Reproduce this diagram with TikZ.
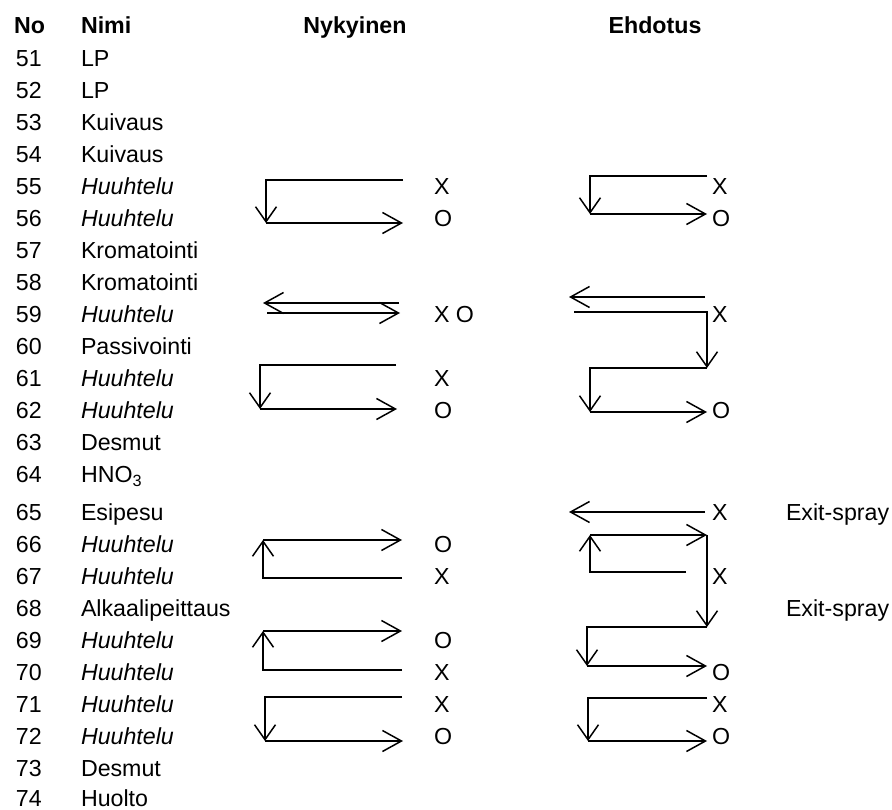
\documentclass[tikz,border=0pt]{standalone}
\usepackage{fontspec}
\setmainfont{Liberation Sans}
\usetikzlibrary{arrows.meta}
\begin{document}
\begin{tikzpicture}[x=1pt,y=-1pt,
  every node/.style={inner sep=0pt, outer sep=0pt, font=\fontsize{23.2}{28}\selectfont},
  cell/.style={anchor=base west},
  hcell/.style={anchor=base west, font=\fontsize{23.2}{28}\selectfont\bfseries},
  hmid/.style={anchor=base, font=\fontsize{23.2}{28}\selectfont\bfseries},
  rinse/.style={anchor=base west, font=\fontsize{23.2}{28}\selectfont\itshape},
  flow/.style={line width=1.5pt, line join=miter},
  harr/.style={flow, -{Straight Barb[length=19pt,width=21pt]}},
  varr/.style={flow, -{Straight Barb[length=15pt,width=21pt]}},
]
\useasboundingbox (0,0) rectangle (892,810);

% column headers
\node[hcell] (hNo)   at (14,33.3)  {No};
\node[hcell] (hNimi) at (81,33.3)  {Nimi};
\node[hmid]  (hNyk)  at (355,33.3) {Nykyinen};
\node[hmid]  (hEhd)  at (655,33.3) {Ehdotus};

% station numbers and names (baseline = row centre + 8.3)
\node[cell] (n51) at (16,66.3)  {51}; \node[cell]  (t51) at (81,66.3)  {LP};
\node[cell] (n52) at (16,98.3)  {52}; \node[cell]  (t52) at (81,98.3)  {LP};
\node[cell] (n53) at (16,130.3) {53}; \node[cell]  (t53) at (81,130.3) {Kuivaus};
\node[cell] (n54) at (16,162.3) {54}; \node[cell]  (t54) at (81,162.3) {Kuivaus};
\node[cell] (n55) at (16,194.3) {55}; \node[rinse] (t55) at (81,194.3) {Huuhtelu};
\node[cell] (n56) at (16,226.3) {56}; \node[rinse] (t56) at (81,226.3) {Huuhtelu};
\node[cell] (n57) at (16,258.3) {57}; \node[cell]  (t57) at (81,258.3) {Kromatointi};
\node[cell] (n58) at (16,290.3) {58}; \node[cell]  (t58) at (81,290.3) {Kromatointi};
\node[cell] (n59) at (16,322.3) {59}; \node[rinse] (t59) at (81,322.3) {Huuhtelu};
\node[cell] (n60) at (16,354.3) {60}; \node[cell]  (t60) at (81,354.3) {Passivointi};
\node[cell] (n61) at (16,386.3) {61}; \node[rinse] (t61) at (81,386.3) {Huuhtelu};
\node[cell] (n62) at (16,418.3) {62}; \node[rinse] (t62) at (81,418.3) {Huuhtelu};
\node[cell] (n63) at (16,450.3) {63}; \node[cell]  (t63) at (81,450.3) {Desmut};
\node[cell] (n64) at (16,482.3) {64}; \node[cell]  (t64) at (81,482.3) {HNO\textsubscript{3}};
\node[cell] (n65) at (16,520.3) {65}; \node[cell]  (t65) at (81,520.3) {Esipesu};
\node[cell] (n66) at (16,552.3) {66}; \node[rinse] (t66) at (81,552.3) {Huuhtelu};
\node[cell] (n67) at (16,584.3) {67}; \node[rinse] (t67) at (81,584.3) {Huuhtelu};
\node[cell] (n68) at (16,616.3) {68}; \node[cell]  (t68) at (81,616.3) {Alkaalipeittaus};
\node[cell] (n69) at (16,648.3) {69}; \node[rinse] (t69) at (81,648.3) {Huuhtelu};
\node[cell] (n70) at (16,680.3) {70}; \node[rinse] (t70) at (81,680.3) {Huuhtelu};
\node[cell] (n71) at (16,712.3) {71}; \node[rinse] (t71) at (81,712.3) {Huuhtelu};
\node[cell] (n72) at (16,744.3) {72}; \node[rinse] (t72) at (81,744.3) {Huuhtelu};
\node[cell] (n73) at (16,776.3) {73}; \node[cell]  (t73) at (81,776.3) {Desmut};
\node[cell] (n74) at (16,806.5) {74}; \node[cell]  (t74) at (81,806.5) {Huolto};

% current practice: X / O marks
\node[cell] (cx55) at (434,194.3) {X};
\node[cell] (co56) at (434,226.3) {O};
\node[cell] (cx59) at (434,322.3) {X O};
\node[cell] (cx61) at (434,386.3) {X};
\node[cell] (co62) at (434,418.3) {O};
\node[cell] (co66) at (434,552.3) {O};
\node[cell] (cx67) at (434,584.3) {X};
\node[cell] (co69) at (434,648.3) {O};
\node[cell] (cx70) at (434,680.3) {X};
\node[cell] (cx71) at (434,712.3) {X};
\node[cell] (co72) at (434,744.3) {O};

% proposal: X / O marks
\node[cell] (px55) at (712,194.3) {X};
\node[cell] (po56) at (712,226.3) {O};
\node[cell] (px59) at (712,322.3) {X};
\node[cell] (po62) at (712,418.3) {O};
\node[cell] (px65) at (712,520.3) {X};
\node[cell] (px67) at (712,584.3) {X};
\node[cell] (po70) at (712,680.3) {O};
\node[cell] (px71) at (712,712.3) {X};
\node[cell] (po72) at (712,744.3) {O};
\node[cell] (ex65) at (786,520.3) {Exit-spray};
\node[cell] (ex68) at (786,616.3) {Exit-spray};

% ---- current practice: flow paths ----
\coordinate (a1) at (403,180); \coordinate (a2) at (266,180);
\coordinate (a3) at (266,223); \coordinate (a4) at (403,223);
\draw[varr] (a1) -- (a2) -- (a3);
\draw[harr] (a3) -- (a4);

\coordinate (b1) at (399,303); \coordinate (b2) at (263,303);
\coordinate (b3) at (267,313); \coordinate (b4) at (400,313);
\draw[harr] (b1) -- (b2);
\draw[harr] (b3) -- (b4);

\coordinate (c1) at (396,365); \coordinate (c2) at (260,365);
\coordinate (c3) at (260,409); \coordinate (c4) at (397,409);
\draw[varr] (c1) -- (c2) -- (c3);
\draw[harr] (c3) -- (c4);

\coordinate (d1) at (402,578); \coordinate (d2) at (263,578);
\coordinate (d3) at (263,540); \coordinate (d4) at (402,540);
\draw[varr] (d1) -- (d2) -- (d3);
\draw[harr] (d3) -- (d4);

\coordinate (e1) at (402,670); \coordinate (e2) at (263,670);
\coordinate (e3) at (263,631); \coordinate (e4) at (402,631);
\draw[varr] (e1) -- (e2) -- (e3);
\draw[harr] (e3) -- (e4);

\coordinate (f1) at (402,697); \coordinate (f2) at (265,697);
\coordinate (f3) at (265,741); \coordinate (f4) at (403,741);
\draw[varr] (f1) -- (f2) -- (f3);
\draw[harr] (f3) -- (f4);

% ---- proposal: flow paths ----
\coordinate (g1) at (707,176); \coordinate (g2) at (590,176);
\coordinate (g3) at (590,214); \coordinate (g4) at (707,214);
\draw[varr] (g1) -- (g2) -- (g3);
\draw[harr] (g3) -- (g4);

\coordinate (h1) at (705,297); \coordinate (h2) at (569,297);
\draw[harr] (h1) -- (h2);

\coordinate (i1) at (574,312); \coordinate (i2) at (707,312);
\coordinate (i3) at (707,368); \coordinate (i4) at (590,368);
\coordinate (i5) at (590,412); \coordinate (i6) at (707,412);
\draw[varr] (i1) -- (i2) -- (i3);
\draw[varr] (i3) -- (i4) -- (i5);
\draw[harr] (i5) -- (i6);

\coordinate (j1) at (705,512); \coordinate (j2) at (569,512);
\draw[harr] (j1) -- (j2);

\coordinate (k1) at (686,572); \coordinate (k2) at (590,572);
\coordinate (k3) at (590,535); \coordinate (k4) at (707,535);
\draw[varr] (k1) -- (k2) -- (k3);
\draw[harr] (k3) -- (k4);

\coordinate (l1) at (707,627); \coordinate (l2) at (587,627);
\coordinate (l3) at (587,666); \coordinate (l4) at (707,666);
\draw[varr] (k4) -- (l1);
\draw[varr] (l1) -- (l2) -- (l3);
\draw[harr] (l3) -- (l4);

\coordinate (m1) at (707,698); \coordinate (m2) at (588,698);
\coordinate (m3) at (588,741); \coordinate (m4) at (707,741);
\draw[varr] (m1) -- (m2) -- (m3);
\draw[harr] (m3) -- (m4);
\end{tikzpicture}
\end{document}
